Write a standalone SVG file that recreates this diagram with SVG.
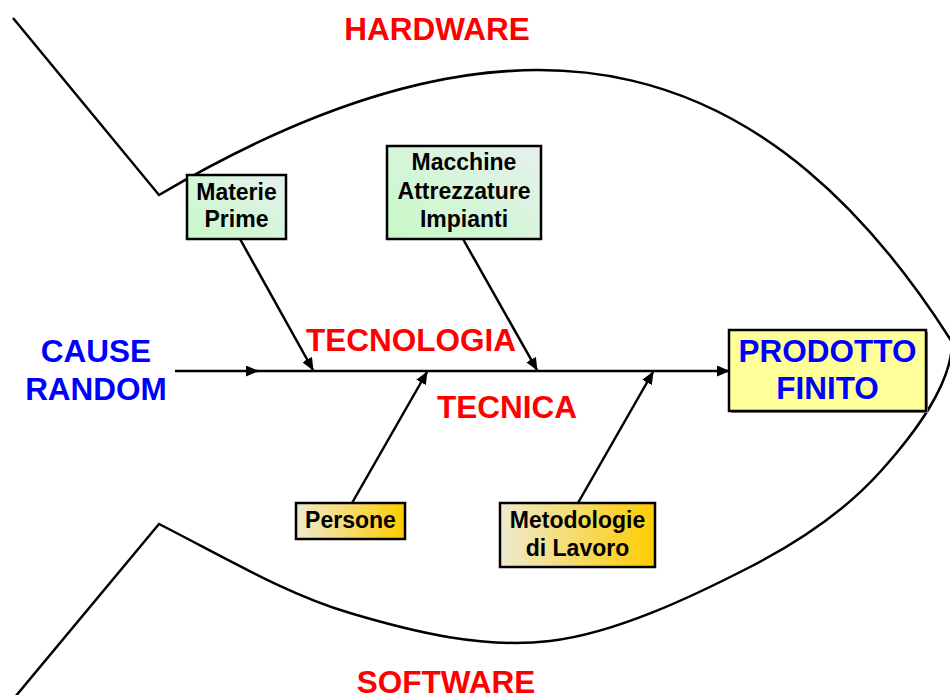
<svg xmlns="http://www.w3.org/2000/svg" width="950" height="695" viewBox="0 0 950 695">
<style>
.ln{fill:none;stroke:#000;stroke-width:2.5}
.box{stroke:#000;stroke-width:2.5}
.t{font-family:"Liberation Sans",Arial,sans-serif;font-weight:bold;text-anchor:middle}
.s{font-size:23px;fill:#000}
.big{font-size:31.5px}
.red{fill:#FF0000}
.blue{fill:#0000FF}
</style>
<defs>
<linearGradient id="gGreen" x1="0" y1="1" x2="1" y2="0">
<stop offset="0" stop-color="#C6FAC6"/>
<stop offset="1" stop-color="#E6F0EE"/>
</linearGradient>
<linearGradient id="gGold" x1="0" y1="0" x2="1" y2="0">
<stop offset="0" stop-color="#EEEAD0"/>
<stop offset="1" stop-color="#FFCC00"/>
</linearGradient>
<marker id="ah" viewBox="0 0 13 11" refX="12" refY="5.5" markerWidth="13" markerHeight="11" markerUnits="userSpaceOnUse" orient="auto">
<path d="M0,0 L13,5.5 L0,11 Z" fill="#000"/>
</marker>
</defs>
<g id="fish">
<path class="ln" d="M13,18 L159,195 C539,-29 776,65 952,342"/>
<path class="ln" d="M15,697 L159,524 C224,557 284.8,593.5 350,613 C415.2,632.5 483.3,648.7 550,641 C616.7,633.3 695,595.2 750,567 C805,538.8 846.3,509.5 880,472 C913.7,434.5 952,385 952,342"/>
</g>
<g id="connectors">
<line class="ln" x1="175" y1="371" x2="258" y2="371" marker-end="url(#ah)"/>
<line class="ln" x1="256" y1="371" x2="729" y2="371" marker-end="url(#ah)"/>
<line class="ln" x1="240" y1="239" x2="313" y2="370" marker-end="url(#ah)"/>
<line class="ln" x1="463" y1="239" x2="537" y2="370" marker-end="url(#ah)"/>
<line class="ln" x1="352" y1="503" x2="427" y2="372" marker-end="url(#ah)"/>
<line class="ln" x1="578" y1="503" x2="653" y2="372" marker-end="url(#ah)"/>
</g>
<g id="materie">
<rect class="box" x="187" y="175" width="99" height="64" fill="url(#gGreen)"/>
<text class="t s" x="236.5" y="200">Materie</text>
<text class="t s" x="236.5" y="227">Prime</text>
</g>
<g id="macchine">
<rect class="box" x="387" y="146" width="154" height="93" fill="url(#gGreen)"/>
<text class="t s" x="464" y="170">Macchine</text>
<text class="t s" x="464" y="199">Attrezzature</text>
<text class="t s" x="464" y="227">Impianti</text>
</g>
<g id="persone">
<rect class="box" x="296" y="503" width="109" height="36" fill="url(#gGold)"/>
<text class="t s" x="350.5" y="528">Persone</text>
</g>
<g id="metodologie">
<rect class="box" x="500" y="503" width="155" height="64" fill="url(#gGold)"/>
<text class="t s" x="577.5" y="528">Metodologie</text>
<text class="t s" x="577.5" y="556">di Lavoro</text>
</g>
<g id="prodotto">
<rect x="731" y="332" width="197" height="81" fill="#888"/>
<rect class="box" x="729" y="330" width="197" height="81" fill="#FFFF99"/>
<text class="t big blue" x="827.5" y="362">PRODOTTO</text>
<text class="t big blue" x="827.5" y="399">FINITO</text>
</g>
<g id="cause">
<text class="t big blue" x="96" y="362">CAUSE</text>
<text class="t big blue" x="96" y="400">RANDOM</text>
</g>
<g id="labels">
<text class="t big red" x="437" y="40">HARDWARE</text>
<text class="t big red" x="446" y="693">SOFTWARE</text>
<text class="t big red" x="411" y="351">TECNOLOGIA</text>
<text class="t big red" x="507" y="418">TECNICA</text>
</g>
</svg>
